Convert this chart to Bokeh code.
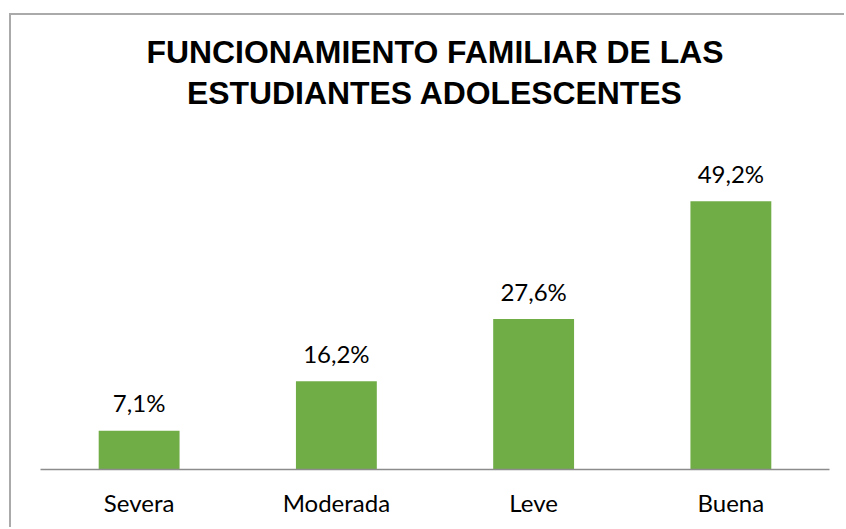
from bokeh.plotting import figure
from bokeh.models import ColumnDataSource, FactorRange, Range1d, Label
from bokeh.core.properties import value
from bokeh.embed import file_html
from bokeh.resources import INLINE

categories = ["Severa", "Moderada", "Leve", "Buena"]
percentages = [7.1, 16.2, 27.6, 49.2]
labels = ["7,1%", "16,2%", "27,6%", "49,2%"]
title_lines = ["FUNCIONAMIENTO FAMILIAR DE LAS", "ESTUDIANTES ADOLESCENTES"]

source = ColumnDataSource(dict(cat=categories, val=percentages, lab=labels))

# layout constants (pixels)
CONTENT_H = 514
BOTTOM = 60
FRAME_H = CONTENT_H - BOTTOM          # 454 px frame, title lives inside
AXIS_MAX_VISIBLE = 60.0               # value axis max of the original plot area
PLOT_AREA_PX = 327.0                  # px height of the original plot area
PX_PER_UNIT = PLOT_AREA_PX / AXIS_MAX_VISIBLE
Y_END = FRAME_H / PX_PER_UNIT
TITLE_BASELINES_PX = [FRAME_H - 36, FRAME_H - 77.5]   # px from frame top

p = figure(width=835, height=CONTENT_H, output_backend="svg", toolbar_location=None,
           x_range=FactorRange(*categories, range_padding=0),
           y_range=Range1d(0, Y_END), y_axis_location=None,
           min_border_left=29, min_border_right=17, min_border_top=0,
           min_border_bottom=BOTTOM, title=None)
p.styles = {"margin-left": "9px", "margin-top": "13px",
            "border-left": "2px solid #aaaaaa", "border-top": "2px solid #aaaaaa"}
p.outline_line_color = None
p.xgrid.visible = False
p.ygrid.visible = False
p.background_fill_color = "white"
p.border_fill_color = "white"

p.vbar(x="cat", top="val", width=0.41, source=source, fill_color="#70ad47",
       line_color=None)
p.text(x="cat", y="val", text="lab", source=source, text_align="center",
       text_baseline="alphabetic", y_offset=-28, text_font=value("Lato"),
       text_font_size="24px", text_color="#000000")

ax = p.xaxis[0]
ax.axis_line_color = "#8c8c8c"
ax.axis_line_width = 1.5
ax.major_tick_line_color = None
ax.minor_tick_line_color = None
ax.major_label_text_font = "Lato"
ax.major_label_text_font_size = "24px"
ax.major_label_text_color = "#000000"
ax.major_label_standoff = 12

for line, px in zip(title_lines, TITLE_BASELINES_PX):
    p.add_layout(Label(x=len(categories) / 2, y=px / PX_PER_UNIT, text=line,
                       text_align="center", text_baseline="alphabetic",
                       text_font="Liberation Sans", text_font_size="31.9px",
                       text_font_style="bold", text_color="#000000"))

open("out.html", "w").write(file_html(p, INLINE))
